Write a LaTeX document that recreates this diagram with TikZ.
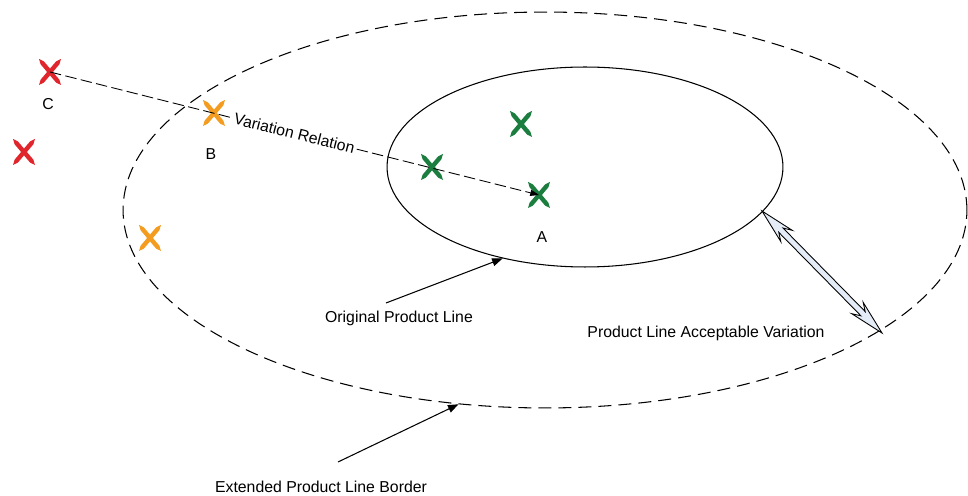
\documentclass[tikz,border=0pt]{standalone}
\usepackage{fontspec}
\setmainfont{Liberation Sans}
\usetikzlibrary{shapes.geometric,arrows.meta}
\definecolor{crossred}{HTML}{E0262C}
\definecolor{crossorange}{HTML}{F39C1F}
\definecolor{crossgreen}{HTML}{1B7D3E}
\definecolor{arrowfill}{HTML}{E4ECF7}
\tikzset{
  cross/.pic={
    \fill (-11,-13) -- (-9.38,-7.68) -- (6.02,10.52) -- (11,13) -- (9.38,7.68) -- (-6.02,-10.52) -- cycle;
    \fill (11,-13) -- (9.38,-7.68) -- (-6.02,10.52) -- (-11,13) -- (-9.38,7.68) -- (6.02,-10.52) -- cycle;
  },
  lbl/.style={font=\fontsize{9}{10.8}\selectfont, inner sep=0pt},
  ptr/.style={-{Triangle[length=6pt,width=4.5pt]}, line width=0.6pt},
}
\begin{document}
\begin{tikzpicture}[x=0.02cm, y=-0.02cm]
    \useasboundingbox (0,0) rectangle (968,496);
    \node[ellipse,draw,line width=0.6pt,dash pattern=on 7.4pt off 4pt,inner sep=0pt,minimum width=16.88cm,minimum height=7.92cm] (extPL) at (545,210) {};
    \node[ellipse,draw,line width=0.6pt,inner sep=0pt,minimum width=7.92cm,minimum height=4cm] (origPL) at (585,167) {};

    \coordinate (C) at (50,72);
    \coordinate (C2) at (24,152);
    \coordinate (B) at (214,113);
    \coordinate (B2) at (150,238);
    \coordinate (A1) at (432,167);
    \coordinate (A2) at (521,124);
    \coordinate (A) at (539,195);
    \foreach \pt/\col in {C/crossred,C2/crossred,B/crossorange,B2/crossorange,A1/crossgreen,A2/crossgreen,A/crossgreen}
        \pic[color=\col] at (\pt) {cross};

    \node[lbl] (labC) at (48,104) {C};
    \node[lbl] (labB) at (211,154) {B};
    \node[lbl] (labA) at (542,237) {A};

    \draw[line width=0.5pt,dash pattern=on 6.5pt off 2.5pt,-{Triangle[length=5pt,width=3.5pt]}] (C) -- node[lbl,sloped,fill=white,inner sep=1pt] (varRel) {Variation Relation} (A);

    \coordinate (oplTail) at (386,303);
    \node[lbl] (oplLabel) at (399,318) {Original Product Line};
    \draw[ptr] (oplTail) -- (origPL.-132);

    \coordinate (eplTail) at (338,462);
    \node[lbl] (eplLabel) at (321,487) {Extended Product Line Border};
    \draw[ptr] (eplTail) -- (extPL.-114);

    \node[lbl] (plavLabel) at (706,333) {Product Line Acceptable Variation};
    \coordinate (pv1) at (762,211);
    \coordinate (pv2) at (882,333);
    \filldraw[fill=arrowfill,line width=0.5pt] (pv1) -- (792.2,230.3) -- (783.1,228.1) -- (865.2,311.6) -- (863.2,302.4) -- (pv2) -- (851.7,313.7) -- (860.9,315.8) -- (778.8,232.4) -- (780.8,241.6) -- cycle;
\end{tikzpicture}
\end{document}
